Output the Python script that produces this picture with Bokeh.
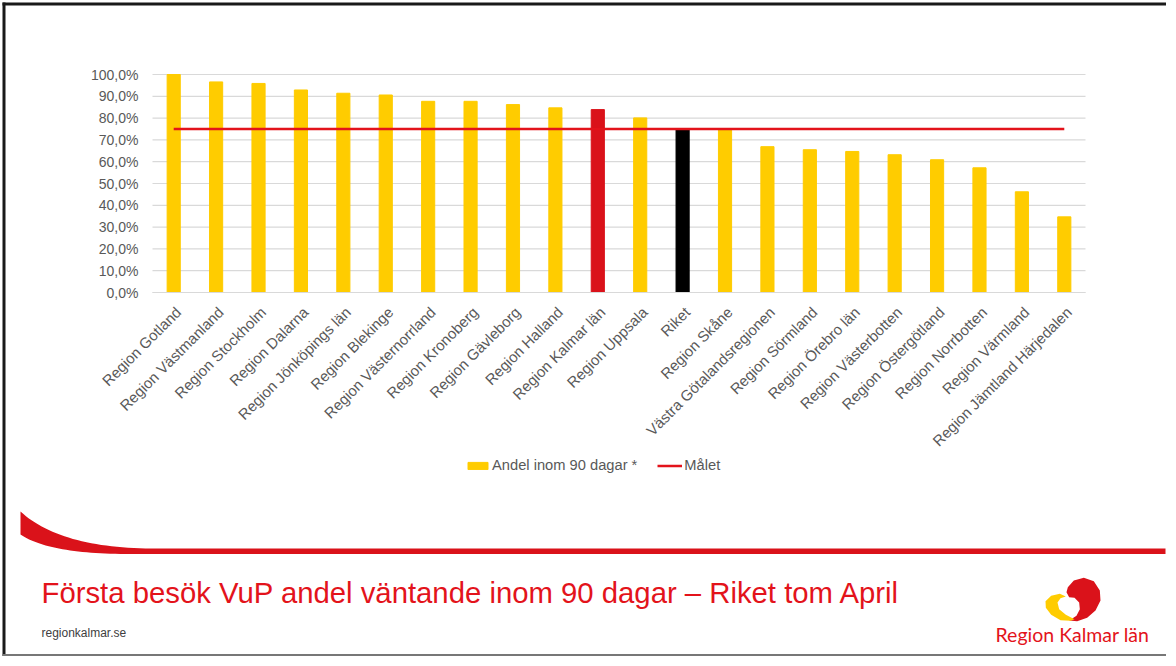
import math
import numpy as np
from bokeh.plotting import figure
from bokeh.models import (Range1d, FixedTicker, Legend, LegendItem, LinearAxis,
                          ColumnDataSource)
from bokeh.embed import file_html
from bokeh.resources import INLINE
from bokeh.core.properties import value

# ---------------- data ----------------
categories = [
    "Region Gotland", "Region Västmanland", "Region Stockholm", "Region Dalarna",
    "Region Jönköpings län", "Region Blekinge", "Region Västernorrland",
    "Region Kronoberg", "Region Gävleborg", "Region Halland", "Region Kalmar län",
    "Region Uppsala", "Riket", "Region Skåne", "Västra Götalandsregionen",
    "Region Sörmland", "Region Örebro län", "Region Västerbotten",
    "Region Östergötland", "Region Norrbotten", "Region Värmland",
    "Region Jämtland Härjedalen",
]
shares = [100.0, 96.6, 95.9, 92.9, 91.4, 90.6, 87.7, 87.7, 86.2, 84.7, 83.9,
          80.1, 74.7, 74.7, 66.9, 65.5, 64.7, 63.2, 60.9, 57.2, 46.2, 34.7]
target = [75.0] * len(categories)
y_ticks = [0, 10, 20, 30, 40, 50, 60, 70, 80, 90, 100]
y_tick_labels = ["0,0%", "10,0%", "20,0%", "30,0%", "40,0%", "50,0%",
                 "60,0%", "70,0%", "80,0%", "90,0%", "100,0%"]
series_label = "Andel inom 90 dagar *"
target_label = "Målet"
title_text = "Första besök VuP andel väntande inom 90 dagar – Riket tom April"
site_text = "regionkalmar.se"
logo_text = "Region Kalmar län"

YELLOW = "#FFCC00"
RED = "#DA121A"
TITLE_RED = "#E3131B"
TEXT_GRAY = "#595959"
GRID = "#D9D9D9"
highlight = {"Region Kalmar län": RED, "Riket": "#000000"}

n = len(categories)
idx = list(range(n))
bar_colors = [highlight.get(c, YELLOW) for c in categories]
src = ColumnDataSource(dict(x=idx, share=shares, color=bar_colors))

# ---------------- canvas geometry (pixels from the canvas top-left) ----------------
W, H = 1166, 656
PLOT_L, PLOT_R = 152.0, 1085.0     # plot area left / right
PLOT_T, PLOT_B = 74.0, 292.0       # y of 100 % and of 0 %
U = (PLOT_R - PLOT_L) / n          # px per category
K = (PLOT_B - PLOT_T) / 100.0      # px per percent
C0 = PLOT_L + U / 2                # centre of first category
LABEL_SHIFT = 0.11                 # category labels sit slightly right of the bar centre


def dx(px):
    return (px - C0) / U


def dy(py):
    return (PLOT_B - py) / K


p = figure(width=W, height=H,
           x_range=Range1d(dx(0), dx(W)),
           y_range=Range1d(dy(H), dy(0)),
           output_backend="svg", toolbar_location=None, min_border=0,
           x_axis_location=None, y_axis_location=None)
p.outline_line_color = None
p.xgrid.visible = False
p.ygrid.visible = False
p.background_fill_color = "white"
p.border_fill_color = "white"

# horizontal gridlines at the tick values, limited to the plot area
p.segment(x0=[-0.5] * len(y_ticks), x1=[n - 0.5] * len(y_ticks),
          y0=y_ticks, y1=y_ticks, line_color=GRID, line_width=1.2)

bars = p.vbar(x="x", top="share", width=0.31, color="color", source=src)
tl = p.line(x=idx, y=target, line_color=TITLE_RED, line_width=2.5)

# axes placed at fixed data locations
yax = LinearAxis(fixed_location=-0.5, ticker=FixedTicker(ticks=y_ticks),
                 major_label_overrides={t: l for t, l in zip(y_ticks, y_tick_labels)},
                 axis_line_color=None, major_tick_line_color=None,
                 minor_tick_line_color=None, major_label_standoff=8,
                 major_label_text_font="Liberation Sans",
                 major_label_text_font_size="14px",
                 major_label_text_color=TEXT_GRAY)
p.add_layout(yax, "left")

label_pos = [i + LABEL_SHIFT for i in idx]
xax = LinearAxis(fixed_location=0, ticker=FixedTicker(ticks=label_pos),
                 major_label_overrides={x: c for x, c in zip(label_pos, categories)},
                 bounds=(-0.5, n - 0.5),
                 axis_line_color=GRID, axis_line_width=1.2,
                 major_tick_line_color=None, minor_tick_line_color=None,
                 major_label_orientation=math.pi / 4, major_label_standoff=11,
                 major_label_text_font="Liberation Sans",
                 major_label_text_font_size="15px",
                 major_label_text_color=TEXT_GRAY)
p.add_layout(xax, "below")

legend = Legend(items=[LegendItem(label=series_label, renderers=[bars], index=0),
                       LegendItem(label=target_label, renderers=[tl])],
                orientation="horizontal", location=(465, H - 473),
                glyph_width=25, glyph_height=9, label_standoff=2, spacing=20,
                padding=0, margin=0, border_line_color=None,
                background_fill_alpha=0, label_text_font="Liberation Sans",
                label_text_font_size="14.7px", label_text_color=TEXT_GRAY)
p.add_layout(legend)

# ---------------- footer decoration ----------------


def bez(p0, p1, p2, m=30):
    t = np.linspace(0, 1, m)
    x = (1 - t) ** 2 * p0[0] + 2 * (1 - t) * t * p1[0] + t ** 2 * p2[0]
    y = (1 - t) ** 2 * p0[1] + 2 * (1 - t) * t * p1[1] + t ** 2 * p2[1]
    return list(x), list(y)


tx, ty = bez((20, 511), (58, 546), (145, 548))
bx, by = bez((125, 553.5), (48, 553), (20, 534))
sx = tx + [1165, 1165] + bx
sy = ty + [548, 553.5] + by
p.patch([dx(v) for v in sx], [dy(v) for v in sy], fill_color=RED, line_color=None)

p.text(x=[dx(41)], y=[dy(592)], text=[title_text], text_font=value("Liberation Sans"),
       text_font_size="29.3px", text_color=TITLE_RED, text_baseline="middle")
p.text(x=[dx(41)], y=[dy(632)], text=[site_text], text_font=value("Liberation Sans"),
       text_font_size="12px", text_color="#404040", text_baseline="middle")
p.text(x=[dx(995)], y=[dy(634)], text=[logo_text], text_font=value("Lato"),
       text_font_size="19.5px", text_color=TITLE_RED, text_baseline="middle")

# logo heart (shape outlines in canvas pixels)
red_z = [(262, 80), (280, 60), (310, 52), (340, 62), (358, 90), (360, 120),
         (345, 150), (320, 172), (290, 182), (266, 180), (288, 166), (298, 146),
         (296, 126), (282, 112), (266, 110), (258, 95)]
yel_z = [(195, 122), (212, 106), (238, 100), (256, 108), (240, 113), (231, 126),
         (236, 146), (256, 163), (282, 176), (270, 181), (240, 179), (212, 163),
         (196, 142)]
p.patch([dx(980 + a / 3) for a, b in red_z], [dy(560 + b / 3) for a, b in red_z],
        fill_color=RED, line_color=None)
p.patch([dx(980 + a / 3) for a, b in yel_z], [dy(560 + b / 3) for a, b in yel_z],
        fill_color=YELLOW, line_color=None)

# slide frame
p.segment(x0=[dx(2), dx(3.5)], x1=[dx(W), dx(3.5)],
          y0=[dy(3.5), dy(2)], y1=[dy(3.5), dy(H)],
          line_color="#1a1a1a", line_width=3)
p.segment(x0=[dx(2)], x1=[dx(W)], y0=[dy(H - 1.5)], y1=[dy(H - 1.5)],
          line_color="#777777", line_width=2)

open("out.html", "w").write(file_html(p, INLINE))
